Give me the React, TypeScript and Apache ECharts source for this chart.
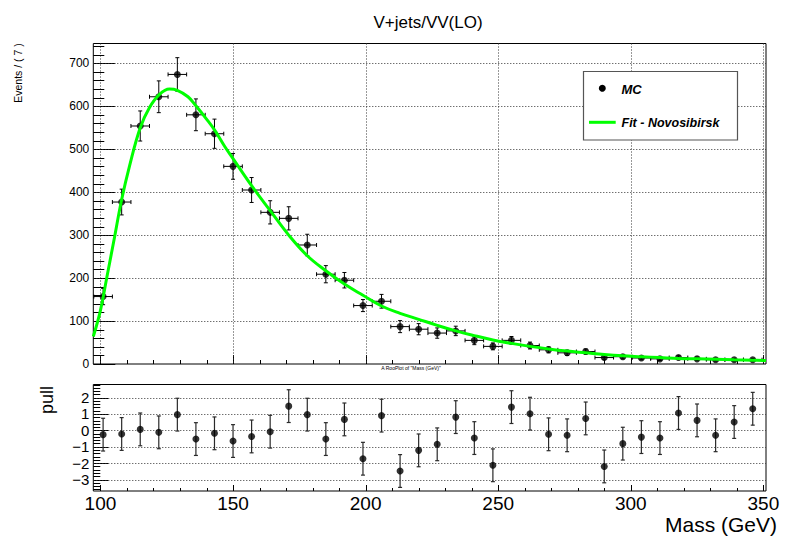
import React, { useEffect, useRef } from "react";
import * as echarts from "echarts";

const FONT = "'Liberation Sans', Arial, Helvetica, sans-serif";

// ---- data ----
const binCenters = [101, 108, 115, 122, 129, 136, 143, 150, 157, 164, 171, 178, 185, 192, 199, 206, 213, 220, 227, 234, 241, 248, 255, 262, 269, 276, 283, 290, 297, 304, 311, 318, 325, 332, 339, 346];
const binHalfWidth = 3.5;
const mcValues = [157, 377, 554, 622, 674, 580, 536, 460, 405, 353, 339, 277, 209, 195, 136, 146, 87, 81, 72, 77, 55, 41, 55, 43, 33, 26, 29, 15, 17, 14, 12, 15, 12, 10, 10, 10];
const mcErrors = [19, 30, 35, 37, 39, 37, 34, 30, 29, 27, 27, 25, 20, 18, 14, 16, 14, 13, 12, 11, 10, 8, 9, 8, 7, 6, 6, 4, 5, 4, 4, 4, 4, 3, 3, 3];
const pullValues = [-0.26, -0.22, 0.06, -0.12, 0.96, -0.53, -0.18, -0.65, -0.37, -0.08, 1.48, 0.96, -0.53, 0.67, -1.73, 0.9, -2.48, -1.22, -0.85, 0.81, -0.47, -2.13, 1.42, 1.02, -0.24, -0.3, 0.73, -2.2, -0.81, -0.41, -0.47, 1.06, 0.61, -0.3, 0.51, 1.32];
const pullErrors = [1, 1, 1, 1, 1, 1, 1, 1, 1, 1, 1, 1, 1, 1, 1, 1, 1, 1, 1, 1, 1, 1, 1, 1, 1, 1, 1, 1, 1, 1, 1, 1, 1, 1, 1, 1];
const fitX = [97.3, 100, 102.5, 105, 108, 111, 115, 118.5, 122, 126, 129, 133, 136, 140, 143, 147, 150, 157, 164, 171, 178, 185, 192, 199, 206, 213, 220, 227, 234, 241, 248, 255, 262, 269, 276, 283, 290, 297, 304, 311, 318, 325, 332, 339, 346, 351];
const fitY = [64, 125, 205, 285, 383, 462, 550, 597, 626, 640, 637, 622, 601, 570, 545, 505, 478, 415, 357, 300, 252, 217, 186, 160, 135, 118, 104, 90, 77, 66, 56, 48, 41, 35, 30, 26, 22, 19, 17, 15, 13, 12, 11, 10, 9, 8];
const massTickLabels = [100, 150, 200, 250, 300, 350];
const eventsTickLabels = [0, 100, 200, 300, 400, 500, 600, 700];
const pullTickLabels = [-3, -2, -1, 0, 1, 2];

// ---- axis ranges ----
const X_MIN = 97.3;
const X_MAX = 351;
const EV_MAX = 746;
const PULL_MIN = -3.7;
const PULL_MAX = 2.8;

function minorTicks(start: number, end: number, step: number, majors: number[]) {
  const out: number[] = [];
  for (let i = 0; ; i++) {
    const v = Math.round((start + i * step) * 1000) / 1000;
    if (v > end + 1e-9) break;
    if (!majors.some((m) => Math.abs(m - v) < 1e-6)) out.push(v);
  }
  return out;
}

const xMinor = minorTicks(100, 350, 10, massTickLabels);
const evMinor = minorTicks(0, 740, 20, eventsTickLabels);
const pullMinor = minorTicks(-3.6, 2.8, 0.2, pullTickLabels);

function ln(x1: number, y1: number, x2: number, y2: number, style: any) {
  return { type: "line", shape: { x1, y1, x2, y2 }, style };
}

const solid = { stroke: "#000", lineWidth: 1 };
const dotted = { stroke: "#333", lineWidth: 1, lineDash: [1, 2] };

function xDecor(major: number, minor: number, grid: boolean) {
  return (params: any, api: any) => {
    const cs = params.coordSys;
    const v = api.value(0);
    const isMajor = api.value(2) === 1;
    const x = Math.round(api.coord([v, api.value(1)])[0]) + 0.5;
    const bottom = cs.y + cs.height;
    const children: any[] = [ln(x, bottom, x, bottom - (isMajor ? major : minor), solid)];
    if (isMajor && grid) children.push(ln(x, cs.y, x, bottom, dotted));
    return { type: "group", children };
  };
}

function yDecor(major: number, minor: number, skipGridAt: number | null) {
  return (params: any, api: any) => {
    const cs = params.coordSys;
    const v = api.value(1);
    const isMajor = api.value(2) === 1;
    const y = Math.round(api.coord([api.value(0), v])[1]) + 0.5;
    const left = cs.x;
    const children: any[] = [ln(left, y, left + (isMajor ? major : minor), y, solid)];
    if (isMajor && v !== skipGridAt) children.push(ln(left, y, cs.x + cs.width, y, dotted));
    return { type: "group", children };
  };
}

function renderMcErr(params: any, api: any) {
  const x = api.value(0);
  const y = api.value(1);
  const e = api.value(2);
  const c = api.coord([x, y]);
  const t = api.coord([x, y + e]);
  const b = api.coord([x, Math.max(y - e, 0)]);
  const l = api.coord([x - binHalfWidth, y]);
  const r = api.coord([x + binHalfWidth, y]);
  const cap = 2;
  const st = { stroke: "#000", lineWidth: 1 };
  return {
    type: "group",
    children: [
      ln(c[0], t[1], c[0], b[1], st),
      ln(c[0] - cap, t[1], c[0] + cap, t[1], st),
      ln(c[0] - cap, b[1], c[0] + cap, b[1], st),
      ln(l[0], c[1], r[0], c[1], st),
      ln(l[0], c[1] - cap, l[0], c[1] + cap, st),
      ln(r[0], c[1] - cap, r[0], c[1] + cap, st),
    ],
  };
}

function renderPullErr(params: any, api: any) {
  const x = api.value(0);
  const y = api.value(1);
  const e = api.value(2);
  const t = api.coord([x, y + e]);
  const b = api.coord([x, y - e]);
  const cap = 2;
  const st = { stroke: "#2a2a2a", lineWidth: 1.2 };
  return {
    type: "group",
    children: [
      ln(t[0], t[1], t[0], b[1], st),
      ln(t[0] - cap, t[1], t[0] + cap, t[1], st),
      ln(t[0] - cap, b[1], t[0] + cap, b[1], st),
    ],
  };
}

export default function App() {
  const ref = useRef<HTMLDivElement>(null);

  useEffect(() => {
    if (!ref.current) return;
    const chart = echarts.init(ref.current, null, { renderer: "svg" });

    const GL = 93.3;
    const GW = 672.7;

    const option: any = {
      animation: false,
      backgroundColor: "#fff",
      textStyle: { fontFamily: FONT },
      grid: [
        { left: GL, top: 43.5, width: GW, height: 320.5, show: true, borderColor: "#000", borderWidth: 1, backgroundColor: "transparent", outerBoundsMode: "none" },
        { left: GL, top: 384.5, width: GW, height: 106.5, show: true, borderColor: "#000", borderWidth: 1, backgroundColor: "transparent", outerBoundsMode: "none" },
      ],
      xAxis: [
        {
          gridIndex: 0, type: "value", min: X_MIN, max: X_MAX,
          axisLine: { show: false }, axisTick: { show: false }, splitLine: { show: false }, axisLabel: { show: false },
        },
        {
          gridIndex: 1, type: "value", min: X_MIN, max: X_MAX,
          axisLine: { show: false }, axisTick: { show: false }, splitLine: { show: false },
          axisLabel: {
            show: true, customValues: massTickLabels, fontSize: 19, lineHeight: 19, color: "#000", margin: 3, fontFamily: FONT,
            showMinLabel: true, showMaxLabel: true, hideOverlap: false,
          },
        },
      ],
      yAxis: [
        {
          gridIndex: 0, type: "value", min: 0, max: EV_MAX,
          axisLine: { show: false }, axisTick: { show: false }, splitLine: { show: false },
          axisLabel: { show: true, customValues: eventsTickLabels, fontSize: 12, color: "#000", margin: 4, fontFamily: FONT },
        },
        {
          gridIndex: 1, type: "value", min: PULL_MIN, max: PULL_MAX,
          axisLine: { show: false }, axisTick: { show: false }, splitLine: { show: false },
          axisLabel: {
            show: true, customValues: pullTickLabels, fontSize: 15, color: "#000", margin: 4, fontFamily: FONT,
            formatter: (v: number) => String(v).replace("-", "\u2212"),
          },
        },
      ],
      series: [
        // top panel decorations
        {
          type: "custom", xAxisIndex: 0, yAxisIndex: 0, silent: true, clip: false, z: 1,
          renderItem: xDecor(9, 4, true),
          data: massTickLabels.map((v) => [v, 0, 1]).concat(xMinor.map((v) => [v, 0, 0])),
        },
        {
          type: "custom", xAxisIndex: 0, yAxisIndex: 0, silent: true, clip: false, z: 1,
          renderItem: yDecor(22, 11, 0),
          data: eventsTickLabels.map((v) => [200, v, 1]).concat(evMinor.map((v) => [200, v, 0])),
        },
        // bottom panel decorations
        {
          type: "custom", xAxisIndex: 1, yAxisIndex: 1, silent: true, clip: false, z: 1,
          renderItem: xDecor(6, 3, false),
          data: massTickLabels.map((v) => [v, 0, 1]).concat(xMinor.map((v) => [v, 0, 0])),
        },
        {
          type: "custom", xAxisIndex: 1, yAxisIndex: 1, silent: true, clip: false, z: 1,
          renderItem: yDecor(15, 7, null),
          data: pullTickLabels.map((v) => [200, v, 1]).concat(pullMinor.map((v) => [200, v, 0])),
        },
        // MC error bars
        {
          name: "MC errors", type: "custom", xAxisIndex: 0, yAxisIndex: 0, silent: true, clip: false, z: 3,
          renderItem: renderMcErr,
          data: binCenters.map((x, i) => [x, mcValues[i], mcErrors[i]]),
        },
        {
          name: "MC", type: "scatter", xAxisIndex: 0, yAxisIndex: 0, symbol: "circle", symbolSize: 7,
          itemStyle: { color: "#000" }, z: 4,
          data: binCenters.map((x, i) => [x, mcValues[i]]),
        },
        {
          name: "Fit - Novosibirsk", type: "line", xAxisIndex: 0, yAxisIndex: 0, smooth: 0.4, showSymbol: false,
          lineStyle: { color: "#00ff00", width: 3 }, z: 5,
          data: fitX.map((x, i) => [x, fitY[i]]),
        },
        // pull panel
        {
          name: "pull errors", type: "custom", xAxisIndex: 1, yAxisIndex: 1, silent: true, clip: false, z: 3,
          renderItem: renderPullErr,
          data: binCenters.map((x, i) => [x, pullValues[i], pullErrors[i]]),
        },
        {
          name: "pull", type: "scatter", xAxisIndex: 1, yAxisIndex: 1, symbol: "circle", symbolSize: 7,
          itemStyle: { color: "#000" }, z: 4,
          data: binCenters.map((x, i) => [x, pullValues[i]]),
        },
      ],
      graphic: [
        { type: "text", x: 428, y: 22, style: { text: "V+jets/VV(LO)", fontSize: 17, fontFamily: FONT, fill: "#000", textAlign: "center", verticalAlign: "middle" } },
        { type: "text", x: 18, y: 73, rotation: Math.PI / 2, style: { text: "Events / ( 7 )", fontSize: 10.5, fontFamily: FONT, fill: "#000", textAlign: "center", verticalAlign: "middle" } },
        { type: "text", x: 47, y: 400, rotation: Math.PI / 2, style: { text: "pull", fontSize: 18, fontFamily: FONT, fill: "#000", textAlign: "center", verticalAlign: "middle" } },
        { type: "text", x: 777, y: 524.5, style: { text: "Mass (GeV)", fontSize: 21, lineHeight: 21, fontFamily: FONT, fill: "#000", textAlign: "right", verticalAlign: "middle" } },
        { type: "text", x: 411, y: 367.5, style: { text: "A RooPlot of \"Mass (GeV)\"", fontSize: 5, fontFamily: FONT, fill: "#000", textAlign: "center", verticalAlign: "middle" } },
        // legend
        { type: "rect", shape: { x: 583.5, y: 71.5, width: 154, height: 68.5 }, style: { fill: "#fff", stroke: "#555", lineWidth: 1.2 }, z: 10 },
        { type: "circle", shape: { cx: 602.3, cy: 88.3, r: 3.5 }, style: { fill: "#000" }, z: 11 },
        { type: "text", x: 621.5, y: 89, style: { text: "MC", fontSize: 13, fontWeight: "bold", fontStyle: "italic", fontFamily: FONT, fill: "#000", verticalAlign: "middle" }, z: 11 },
        { type: "line", shape: { x1: 589, y1: 122.3, x2: 615.7, y2: 122.3 }, style: { stroke: "#00ff00", lineWidth: 3 }, z: 11 },
        { type: "text", x: 621.5, y: 122.5, style: { text: "Fit - Novosibirsk", fontSize: 12.5, fontWeight: "bold", fontStyle: "italic", fontFamily: FONT, fill: "#000", verticalAlign: "middle" }, z: 11 },
      ],
    };

    chart.setOption(option);
    return () => chart.dispose();
  }, []);

  return (
    <div
      ref={ref}
      style={{ position: "fixed", left: 0, top: 0, width: 785, height: 536, background: "#fff" }}
    />
  );
}
